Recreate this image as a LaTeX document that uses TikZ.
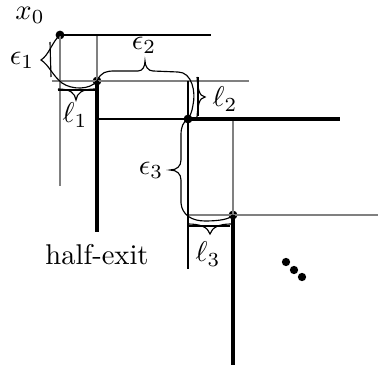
\documentclass[tikz,border=0pt]{standalone}
\begin{document}
\begin{tikzpicture}[x=0.35pt,y=-0.35pt,
  thinblack/.style={line width=0.4pt},
  thingray/.style={line width=0.4pt,black!50},
  thickline/.style={line width=1.1pt},
  bracepath/.style={line width=0.4pt},
  dot/.style={circle,fill,inner sep=0pt,minimum size=3.1pt},
  smalldot/.style={circle,fill,inner sep=0pt,minimum size=2.9pt},
  lbl/.style={inner sep=0pt}]
\useasboundingbox (0,0) rectangle (378,369);
% points
\node[dot] (x0) at (60,35) {};
\node[dot] (p1) at (97,81) {};
\node[dot] (p2) at (188,119) {};
\node[dot] (p3) at (233,215) {};
% line ends
\coordinate (t1) at (211,35);
\coordinate (t2) at (97,35);
\coordinate (t3) at (60,186);
\coordinate (h1a) at (52,81);
\coordinate (h1b) at (249,81);
\coordinate (v1b) at (97,232);
\coordinate (h2a) at (97,119);
\coordinate (h2b) at (340,119);
\coordinate (v2a) at (188,81);
\coordinate (v2b) at (188,269);
\coordinate (v3a) at (233,119);
\coordinate (h3a) at (188,215);
\coordinate (h3b) at (378,215);
\coordinate (v3b) at (233,365);
% thin lines
\draw[thingray] (x0.center) -- (t3);
\draw[thingray] (t2) -- (p1.center);
\draw[thingray] (h1a) -- (h1b);
\draw[thingray] (v3a) -- (p3.center);
\draw[thingray] (h3a) -- (h3b);
\draw[thinblack] (x0.center) -- (t1);
\draw[thinblack] (h2a) -- (p2.center);
\draw[thinblack] (v2a) -- (v2b);
% thick lines
\draw[thickline] (p1.center) -- (v1b);
\draw[thickline] (p2.center) -- (h2b);
\draw[thickline] (p3.center) -- (v3b);
% epsilon braces
\draw[bracepath] (x0.center) .. controls (52,42) and (49,55) .. (41,60)
  .. controls (49,65) and (52,75) .. (62,83) .. controls (72,90) and (90,90) .. (p1.center);
\draw[bracepath] (50,42) -- (51,77);
\draw[bracepath] (p1.center) .. controls (101,72) and (106,71) .. (115,71) -- (138,71)
  .. controls (143,71) and (145,66) .. (145,61) .. controls (145,66) and (148,71) .. (153,71)
  -- (178,72) .. controls (192,72) and (196,92) .. (193,105) .. controls (192,112) and (190,116) .. (p2.center);
\draw[bracepath] (p2.center) .. controls (183,122) and (181,127) .. (181,135) -- (181,160)
  .. controls (181,166) and (177,170) .. (170,170) .. controls (177,170) and (181,174) .. (181,180)
  -- (181,203) .. controls (182,215) and (192,221) .. (205,221) .. controls (220,221) and (230,219) .. (p3.center);
% ell braces
\draw[bracepath] (58,90) -- (95,90);
\draw[bracepath] (58,89) .. controls (70,89) and (75,93) .. (76,100) .. controls (77,93) and (82,89) .. (95,89);
\draw[bracepath] (198,77) -- (198,116);
\draw[bracepath] (197,77) .. controls (198,89) and (199,96) .. (205,97) .. controls (199,98) and (198,105) .. (197,117);
\draw[bracepath] (189,226) -- (230,226);
\draw[bracepath] (188,224) .. controls (200,224) and (208,227) .. (210,234) .. controls (212,227) and (220,224) .. (231,224);
% labels
\node[lbl] (lx0) at (30,15) {$x_0$};
\node[lbl] (le1) at (22,60) {$\epsilon_1$};
\node[lbl] (le2) at (144,45) {$\epsilon_2$};
\node[lbl] (ll1) at (75,115) {$\ell_1$};
\node[lbl] (ll2) at (225,99) {$\ell_2$};
\node[lbl] (le3) at (151,170) {$\epsilon_3$};
\node[lbl] (lhe) at (97,255) {half-exit};
\node[lbl] (ll3) at (208,254) {$\ell_3$};
% continuation dots
\node[smalldot] (d1) at (286,262) {};
\node[smalldot] (d2) at (294,270) {};
\node[smalldot] (d3) at (302,277) {};
\end{tikzpicture}
\end{document}
